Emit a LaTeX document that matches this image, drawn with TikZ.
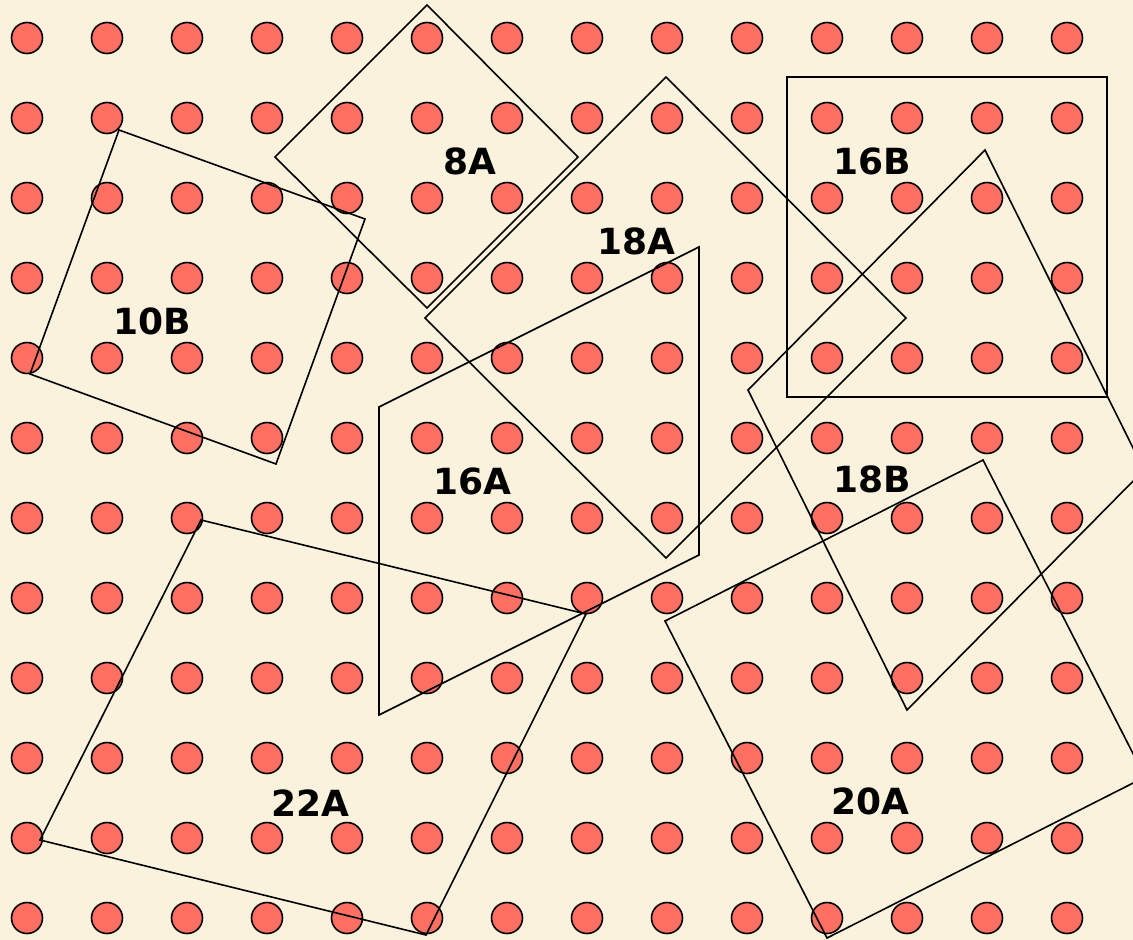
\documentclass[tikz,border=0pt]{standalone}
\usepackage{fontspec}
\setsansfont{DejaVu Sans}
\begin{document}
\begin{tikzpicture}[x=1pt,y=-1pt,
  dotc/.style={fill=dotred,draw=black,line width=1.6pt},
  poly/.style={draw=black,line width=1.6pt,line join=miter},
  lbl/.style={anchor=base,inner sep=0pt,font=\sffamily\bfseries\fontsize{36}{40}\selectfont,text=black}]
\definecolor{bgc}{RGB}{251,242,221}
\definecolor{dotred}{RGB}{255,112,98}
\clip (0,0) rectangle (1133,940);
\fill[bgc] (0,0) rectangle (1133,940);
\foreach \i in {0,...,13}{
  \foreach \j in {0,...,11}{
    \path[dotc] (27+80*\i,38+80*\j) circle[radius=15.5pt];
  }
}
% 8A
\draw[poly] (427,5) -- (578,157) -- (427,308) -- (275,157) -- cycle;
% 18A
\draw[poly] (666,77) -- (906,318) -- (666,558) -- (425,318) -- cycle;
% 16B
\draw[poly] (787,77) rectangle (1107,397);
% 18B
\draw[poly] (985,150) -- (1144,470) -- (907,710) -- (748,390) -- cycle;
% 10B
\draw[poly] (119,130) -- (365,219) -- (276,464) -- (30,374) -- cycle;
% 16A
\draw[poly] (699,247) -- (699,555) -- (379,715) -- (379,407) -- cycle;
% 22A
\draw[poly] (201,520) -- (586,614) -- (426,935) -- (40,840) -- cycle;
% 20A
\draw[poly] (983,460) -- (1145,777) -- (827,938) -- (665,621) -- cycle;
% labels
\node[lbl] (l8a)  at (470,174) {8A};
\node[lbl] (l18a) at (636,254) {18A};
\node[lbl] (l16b) at (872,174) {16B};
\node[lbl] (l10b) at (152,334) {10B};
\node[lbl] (l16a) at (472,494) {16A};
\node[lbl] (l18b) at (872,492) {18B};
\node[lbl] (l22a) at (310,816) {22A};
\node[lbl] (l20a) at (870,814) {20A};
\end{tikzpicture}
\end{document}
